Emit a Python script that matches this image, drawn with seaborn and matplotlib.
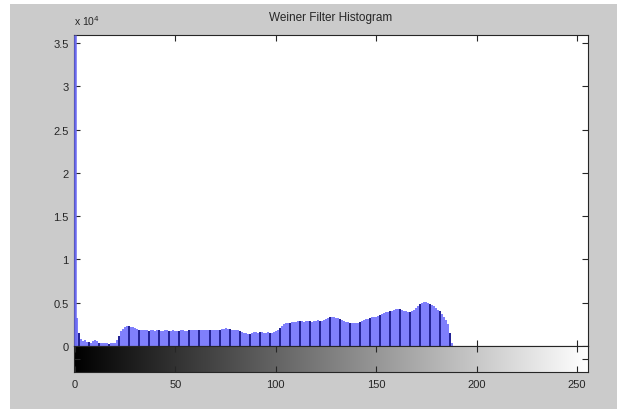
import numpy as np
import pandas as pd
import matplotlib
matplotlib.use("Agg")
import matplotlib.pyplot as plt
from matplotlib.patches import Rectangle
import seaborn as sns

# histogram counts per gray level (x 1e4), levels 0..188, zero above
counts_e4 = [
    3.592,
    0.32, 0.15, 0.08, 0.06, 0.07, 0.05, 0.05, 0.04, 0.06, 0.07,
    0.06, 0.04, 0.03, 0.04, 0.03, 0.03, 0.02, 0.03, 0.03, 0.04,
    0.07, 0.12, 0.17, 0.20, 0.22, 0.23, 0.23, 0.22, 0.22, 0.21,
    0.20, 0.19, 0.18, 0.18, 0.18, 0.18, 0.17, 0.18, 0.18, 0.17,
    0.18, 0.18, 0.17, 0.17, 0.18, 0.18, 0.17, 0.17, 0.18, 0.17,
    0.17, 0.17, 0.18, 0.18, 0.17, 0.17, 0.18, 0.18, 0.19, 0.19,
    0.19, 0.18, 0.19, 0.19, 0.19, 0.18, 0.19, 0.19, 0.19, 0.19,
    0.19, 0.19, 0.20, 0.20, 0.21, 0.20, 0.20, 0.19, 0.19, 0.18,
    0.18, 0.17, 0.16, 0.15, 0.15, 0.14, 0.14, 0.15, 0.16, 0.16,
    0.15, 0.16, 0.16, 0.15, 0.15, 0.16, 0.15, 0.15, 0.16, 0.17,
    0.19, 0.21, 0.23, 0.25, 0.26, 0.27, 0.27, 0.28, 0.28, 0.28,
    0.29, 0.29, 0.29, 0.28, 0.29, 0.29, 0.29, 0.28, 0.29, 0.29,
    0.30, 0.29, 0.29, 0.30, 0.31, 0.32, 0.33, 0.33, 0.33, 0.32,
    0.32, 0.31, 0.30, 0.29, 0.28, 0.28, 0.27, 0.27, 0.27, 0.27,
    0.27, 0.28, 0.29, 0.30, 0.31, 0.31, 0.32, 0.33, 0.34, 0.34,
    0.35, 0.36, 0.37, 0.38, 0.39, 0.39, 0.40, 0.41, 0.42, 0.43,
    0.43, 0.43, 0.42, 0.41, 0.40, 0.39, 0.39, 0.40, 0.42, 0.44,
    0.46, 0.48, 0.50, 0.51, 0.51, 0.50, 0.49, 0.47, 0.46, 0.44,
    0.42, 0.40, 0.37, 0.34, 0.30, 0.25, 0.15, 0.03,
]
x_ticks = [0, 50, 100, 150, 200, 250]
y_ticks_e4 = [0, 0.5, 1, 1.5, 2, 2.5, 3, 3.5]
y_tick_labels = ["0", "0.5", "1", "1.5", "2", "2.5", "3", "3.5"]
title = "Weiner Filter Histogram"

counts = np.array(counts_e4) * 1e4
levels = np.arange(len(counts))
df = pd.DataFrame({"level": levels, "count": counts})

sns.set_style("ticks")
plt.rcParams["font.family"] = ["Liberation Sans", "DejaVu Sans"]
plt.rcParams["font.size"] = 8

fig = plt.figure(figsize=(6.17, 4.10), dpi=100, facecolor="white")
# gray window background (white strip at top/left as in screenshot)
fig.patches.append(Rectangle((10 / 617, 0), 1, 1 - 5 / 410, transform=fig.transFigure,
                             facecolor="#cbcbcb", edgecolor="none", zorder=-10))

ax = fig.add_axes([74 / 617, 1 - 347 / 410, (588 - 74) / 617, (347 - 36) / 410])
cax = fig.add_axes([74 / 617, 1 - 373 / 410, (588 - 74) / 617, (373 - 347) / 410])

sns.histplot(data=df, x="level", weights="count", discrete=True, ax=ax,
             element="bars", fill=True, color="#7f7ffc", alpha=1, linewidth=0)
# stems (dark lines visible every few levels)
stem = levels % 5 == 2
ax.vlines(levels[stem], 0, counts[stem], color="#1a1a8a", linewidth=1.3)
# the tall level-0 stem sits on the left axis line
ax.vlines(levels[:1], 0, counts[:1], color="#6a6af0", linewidth=1.8,
          zorder=3, clip_on=False)

ax.set_xlim(-0.5, 255.5)
ax.set_ylim(0, 35920)
ax.set_xticks(x_ticks)
ax.set_xticklabels([])
ax.set_yticks([v * 1e4 for v in y_ticks_e4])
ax.set_yticklabels(y_tick_labels)
ax.set_xlabel("")
ax.set_ylabel("")
ax.tick_params(direction="in", top=True, right=True, length=4, width=0.8, pad=4)
for s in ax.spines.values():
    s.set_visible(True)
    s.set_linewidth(0.8)
ax.set_facecolor("white")
ax.set_title(title, fontsize=8.5, pad=11)
ax.text(0.0, 1.025, r"x 10$^4$", transform=ax.transAxes, fontsize=7.5,
        ha="left", va="bottom")

cax.imshow(np.arange(256)[None, :], cmap="gray", aspect="auto",
           extent=(-0.5, 255.5, 0, 1), vmin=0, vmax=255)
cax.set_xlim(-0.5, 255.5)
cax.set_ylim(0, 1)
cax.set_xticks(x_ticks)
cax.set_yticks([0.5])
cax.set_yticklabels([])
cax.tick_params(direction="in", top=True, right=True, left=True, length=4, width=0.8, pad=5)
for s in cax.spines.values():
    s.set_linewidth(0.8)

fig.savefig("out.png", dpi=100, facecolor=fig.get_facecolor())
